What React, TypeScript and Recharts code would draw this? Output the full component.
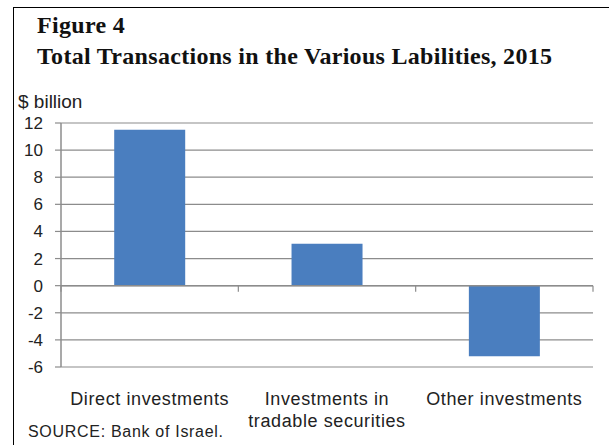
import React from "react";
import { BarChart, Bar, XAxis, YAxis, CartesianGrid, ReferenceLine } from "recharts";

const categories = ["Direct investments", "Investments in tradable securities", "Other investments"];
const categoryLines = [["Direct investments"], ["Investments in", "tradable securities"], ["Other investments"]];
const values = [11.5, 3.1, -5.2];
const yTicks = [-6, -4, -2, 0, 2, 4, 6, 8, 10, 12];

const data = categories.map((name, i) => ({ name, value: values[i] }));

const GRID = "#8c8c8c";
const TEXT = "#222";
const SANS = "'Liberation Sans', Arial, sans-serif";
const SERIF = "'Liberation Serif', 'Times New Roman', serif";

// category labels, possibly on two lines
const CategoryTick = (props: any) => {
  const { x, y, payload } = props;
  const lines = categoryLines[payload.index] || [payload.value];
  return (
    <text x={x} y={y} textAnchor="middle" fill={TEXT} fontFamily={SANS} fontSize={18} letterSpacing={0.6}>
      {lines.map((l: string, i: number) => (
        <tspan key={i} x={x} dy={i === 0 ? 30 : 22}>
          {l}
        </tspan>
      ))}
    </text>
  );
};

// zero line with small ticks on the category boundaries
const ZeroLine = (props: any) => {
  const { x1, y1, x2, y2 } = props;
  const n = data.length;
  return (
    <g>
      <line x1={x1} y1={y1} x2={x2} y2={y2} stroke={GRID} strokeWidth={1.5} />
      {Array.from({ length: n + 1 }).map((_, i) => {
        const x = x1 + ((x2 - x1) * i) / n;
        return <line key={i} x1={x} y1={y1} x2={x} y2={y1 + 6} stroke={GRID} strokeWidth={1.2} />;
      })}
    </g>
  );
};

const titleStyle: React.CSSProperties = {
  position: "absolute",
  left: 37,
  fontFamily: SERIF,
  fontWeight: "bold",
  fontSize: 24,
  lineHeight: "24px",
  color: "#111",
  whiteSpace: "nowrap",
  letterSpacing: 0.3,
};

export default function App() {
  return (
    <div style={{ position: "absolute", left: 0, top: 0, width: 609, height: 445, background: "#fff", overflow: "hidden" }}>
      {/* frame */}
      <div style={{ position: "absolute", left: 13, top: 7, width: 600, height: 450, borderTop: "1.5px solid #000", borderLeft: "1.5px solid #000" }} />
      <div style={{ ...titleStyle, top: 13 }}>Figure 4</div>
      <div style={{ ...titleStyle, top: 44 }}>Total Transactions in the Various Labilities, 2015</div>
      <div style={{ position: "absolute", left: 18, top: 92, fontFamily: SANS, fontSize: 19, lineHeight: "19px", color: TEXT }}>$ billion</div>
      <div style={{ position: "absolute", left: 28, top: 424, fontFamily: SANS, fontSize: 16, lineHeight: "16px", letterSpacing: 0.7, color: TEXT }}>
        SOURCE: Bank of Israel.
      </div>
      <div style={{ position: "absolute", left: 0, top: 0 }}>
        <BarChart width={609} height={445} data={data} margin={{ top: 123, right: 16, left: 0, bottom: 0 }} barCategoryGap="30%">
          <CartesianGrid vertical={false} stroke={GRID} strokeWidth={1.2} />
          <XAxis dataKey="name" height={78} axisLine={false} tickLine={false} interval={0} tick={<CategoryTick />} />
          <YAxis
            width={61}
            domain={[-6, 12]}
            ticks={yTicks}
            interval={0}
            axisLine={{ stroke: GRID, strokeWidth: 1.5 }}
            tickLine={{ stroke: GRID, strokeWidth: 1.2 }}
            tickSize={6}
            tickMargin={12}
            tick={{ fill: TEXT, fontFamily: SANS, fontSize: 17 }}
          />
          <Bar dataKey="value" fill="#4a7ebf" isAnimationActive={false} />
          <ReferenceLine y={0} shape={<ZeroLine />} />
        </BarChart>
      </div>
    </div>
  );
}
